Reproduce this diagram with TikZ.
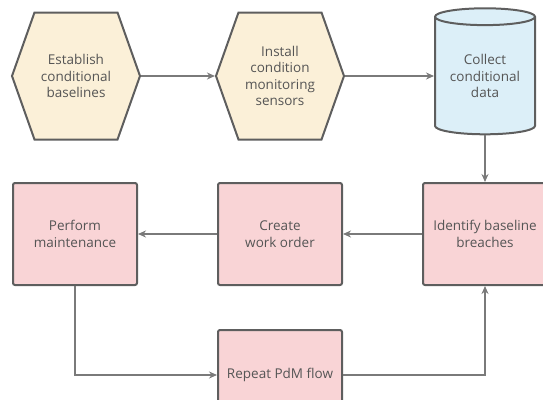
\documentclass[tikz,border=0pt]{standalone}
\usepackage{fontspec}
\setmainfont{Open Sans}
\usepackage{tikz}
\usetikzlibrary{positioning,shapes.symbols,shapes.geometric,arrows.meta}
\definecolor{hexfill}{HTML}{FBF0D8}
\definecolor{cylfill}{HTML}{DCEFF8}
\definecolor{boxfill}{HTML}{F9D4D6}
\definecolor{rim}{HTML}{5E5E5E}
\definecolor{wire}{HTML}{7A7A7A}
\definecolor{ink}{HTML}{555555}

\begin{document}
\begin{tikzpicture}[x=1pt,y=1pt,on grid,node distance=205pt,
	font=\fontsize{13.5}{16.5}\selectfont,text=ink,
	base/.style={draw=rim,line width=2pt,align=center},
	hexa/.style={base,fill=hexfill,signal,signal to=west and east,signal from=nowhere,signal pointer angle=141,minimum width=128pt,minimum height=127pt,inner sep=0pt},
	drum/.style={base,fill=cylfill,cylinder,shape border rotate=90,aspect=0.24,minimum width=100pt,minimum height=126pt,inner sep=0pt},
	card/.style={base,fill=boxfill,rounded corners=2pt,minimum width=124pt,minimum height=102pt},
	flow/.style={draw=wire,line width=1.8pt,-{Stealth[length=8pt,width=7pt]}}]
	\useasboundingbox (0,0) rectangle (543,-399);
	\node[hexa] (est) at (76,-76) {Establish\\conditional\\baselines};
	\node[hexa] (ins) [right=204pt of est] {Install\\condition\\monitoring\\sensors};
	\node[drum] (col) [right=of ins] {Collect\\conditional\\data};
	\node[card] (idf) [below=158pt of col] {Identify baseline\\breaches};
	\node[card] (wo) [left=of idf] {Create\\work order};
	\node[card] (pm) [left=of wo] {Perform\\maintenance};
	\node[card,minimum height=90pt] (rep) [below=141pt of wo] {Repeat PdM flow};
	\path[flow]
	(est)	edge (ins)
	(ins)	edge (col)
	(col)	edge (idf)
	(idf)	edge (wo)
	(wo)	edge (pm)
	;
	\draw[flow] (pm.south) |- (rep.west);
	\draw[flow] (rep.east) -| (idf.south);
\end{tikzpicture}
\end{document}
